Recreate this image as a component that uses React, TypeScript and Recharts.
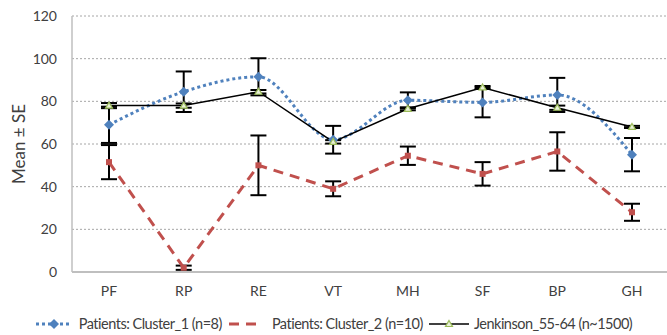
import React from "react";
import { CartesianGrid, ErrorBar, Legend, Line, LineChart, XAxis, YAxis } from "recharts";

const categories = ["PF", "RP", "RE", "VT", "MH", "SF", "BP", "GH"];
const cluster1 = [69, 84.5, 91.5, 62, 80.5, 79.5, 83, 55];
const cluster1Se = [8.5, 9.5, 8.7, 6.5, 3.7, 7, 8, 7.8];
const cluster2 = [51.5, 2, 50, 39, 54.5, 46, 56.5, 28];
const cluster2Se = [8, 1, 14, 3.5, 4.3, 5.5, 9, 4];
const jenkinson = [78, 78, 84.5, 61, 76.5, 86.5, 77, 68];
const jenkinsonSe = [1.2, 1, 0.8, 0.8, 0.7, 0.7, 1, 0.5];
const yTicks = [0, 20, 40, 60, 80, 100, 120];

const seriesNames = [
  "Patients: Cluster_1 (n=8)",
  "Patients: Cluster_2 (n=10)",
  "Jenkinson_55-64 (n~1500)",
];

const BLUE = "#4F81BD";
const RED = "#C0504D";
const GREEN = "#9BBB59";
const TEXT = "#404040";
const FONT = "Lato, 'Open Sans', sans-serif";

const data = categories.map((name, i) => ({
  name,
  c1: cluster1[i],
  c1se: cluster1Se[i],
  c2: cluster2[i],
  c2se: cluster2Se[i],
  jk: jenkinson[i],
  jkse: jenkinsonSe[i],
}));

const Diamond = (props: any) => {
  const { cx, cy } = props;
  if (cx == null || cy == null) return null;
  return <path d={`M${cx},${cy - 5}L${cx + 5},${cy}L${cx},${cy + 5}L${cx - 5},${cy}Z`} fill={BLUE} />;
};

const Square = (props: any) => {
  const { cx, cy } = props;
  if (cx == null || cy == null) return null;
  return <rect x={cx - 3} y={cy - 3} width={6} height={6} fill={RED} />;
};

const Triangle = (props: any) => {
  const { cx, cy } = props;
  if (cx == null || cy == null) return null;
  return (
    <path
      d={`M${cx},${cy - 3.5}L${cx + 3.5},${cy + 2.5}L${cx - 3.5},${cy + 2.5}Z`}
      fill="#e8f0d8"
      stroke={GREEN}
      strokeWidth={1.2}
    />
  );
};

// legend drawn by hand so the samples look like the Excel ones
const LegendContent = () => (
  <div
    style={{
      display: "flex",
      justifyContent: "center",
      alignItems: "center",
      paddingTop: 8,
      fontFamily: FONT,
      fontSize: 14.5,
      lineHeight: "18px",
      letterSpacing: -0.5,
      color: TEXT,
      whiteSpace: "nowrap",
    }}
  >
    <svg width={38} height={12} style={{ marginRight: 6 }}>
      <line x1={1} y1={6} x2={37} y2={6} stroke={BLUE} strokeWidth={3} strokeDasharray="3 3" />
      <Diamond cx={19} cy={6} />
    </svg>
    <span style={{ marginRight: 6 }}>{seriesNames[0]}</span>
    <svg width={32} height={12} style={{ marginRight: 12 }}>
      <line x1={1} y1={6} x2={32} y2={6} stroke={RED} strokeWidth={3} strokeDasharray="10 7" />
    </svg>
    <span style={{ marginRight: 6 }}>{seriesNames[1]}</span>
    <svg width={40} height={12} style={{ marginRight: 5 }}>
      <line x1={0} y1={6} x2={40} y2={6} stroke="#000" strokeWidth={1.5} />
      <Triangle cx={20} cy={6} />
    </svg>
    <span>{seriesNames[2]}</span>
  </div>
);

export default function App() {
  return (
    <div style={{ position: "absolute", left: 0, top: 0, background: "#fff" }}>
      <LineChart
        width={667}
        height={335}
        data={data}
        margin={{ top: 16, right: 0, left: 0, bottom: 2 }}
        style={{ fontFamily: FONT }}
      >
        <CartesianGrid vertical={false} stroke="#a6a6a6" strokeDasharray="2 2" />
        <XAxis
          dataKey="name"
          height={35}
          padding={{ left: 37, right: 35 }}
          axisLine={{ stroke: "#bfbfbf", strokeWidth: 2 }}
          tickLine={false}
          tickSize={6}
          tickMargin={8}
          tick={{ fontSize: 14, fill: TEXT }}
        />
        <YAxis
          width={72}
          domain={[0, 120]}
          ticks={yTicks}
          axisLine={{ stroke: "#bfbfbf", strokeWidth: 1.5 }}
          tickLine={false}
          tickSize={6}
          tickMargin={9}
          tick={{ fontSize: 14, fill: TEXT }}
          label={{
            value: "Mean ± SE",
            angle: -90,
            position: "insideLeft",
            offset: 19,
            style: { textAnchor: "middle", fontSize: 17, fill: TEXT },
          }}
        />
        <Legend verticalAlign="bottom" height={26} content={<LegendContent />} />
        <Line
          type="monotone"
          dataKey="c1"
          name={seriesNames[0]}
          stroke={BLUE}
          strokeWidth={3}
          strokeDasharray="3 3"
          dot={<Diamond />}
          activeDot={false}
          isAnimationActive={false}
        >
          <ErrorBar dataKey="c1se" width={8} stroke="#000" strokeWidth={2} />
        </Line>
        <Line
          type="linear"
          dataKey="c2"
          name={seriesNames[1]}
          stroke={RED}
          strokeWidth={3}
          strokeDasharray="10 7"
          dot={<Square />}
          activeDot={false}
          isAnimationActive={false}
        >
          <ErrorBar dataKey="c2se" width={8} stroke="#000" strokeWidth={2} />
        </Line>
        <Line
          type="linear"
          dataKey="jk"
          name={seriesNames[2]}
          stroke="#000"
          strokeWidth={1.5}
          dot={<Triangle />}
          activeDot={false}
          isAnimationActive={false}
        >
          <ErrorBar dataKey="jkse" width={8} stroke="#000" strokeWidth={2} />
        </Line>
      </LineChart>
    </div>
  );
}
